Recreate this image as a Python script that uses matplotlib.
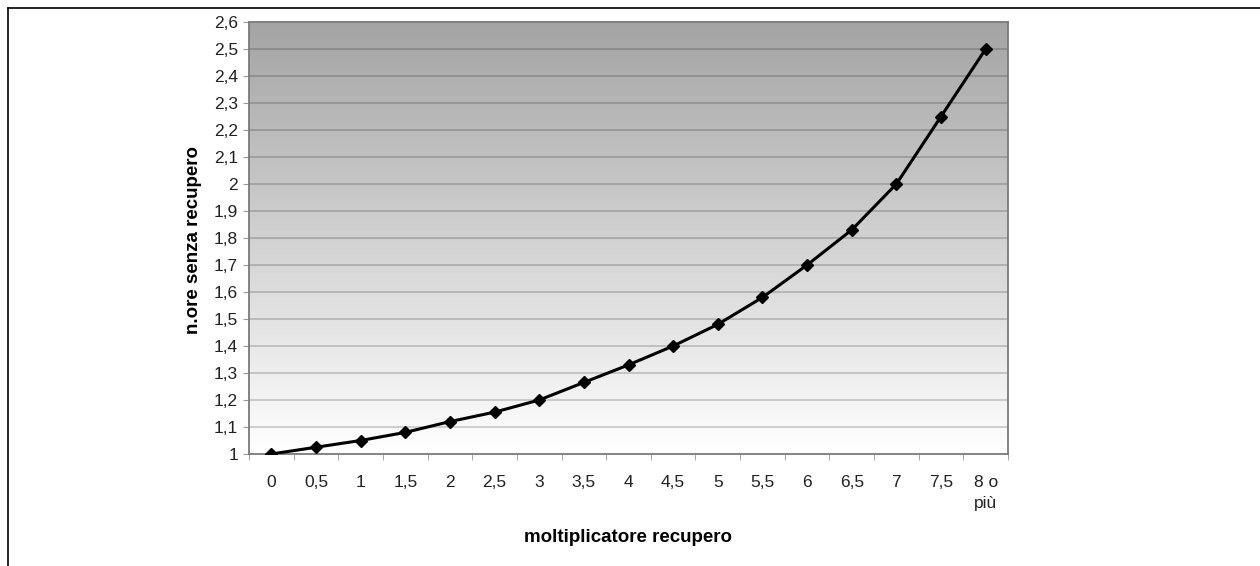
import numpy as np
import matplotlib
matplotlib.use("Agg")
import matplotlib.pyplot as plt
from matplotlib.lines import Line2D
from matplotlib.ticker import FixedLocator
from matplotlib.colors import LinearSegmentedColormap

plt.rcParams['font.family'] = ['Liberation Sans', 'DejaVu Sans']

categories = ["0", "0,5", "1", "1,5", "2", "2,5", "3", "3,5", "4", "4,5",
              "5", "5,5", "6", "6,5", "7", "7,5", "8 o\npiù"]
values = [1.0, 1.025, 1.05, 1.08, 1.12, 1.155, 1.2, 1.265, 1.33, 1.4,
          1.48, 1.58, 1.7, 1.83, 2.0, 2.25, 2.5]
y_ticks = [1.0, 1.1, 1.2, 1.3, 1.4, 1.5, 1.6, 1.7, 1.8, 1.9, 2.0,
           2.1, 2.2, 2.3, 2.4, 2.5, 2.6]
y_ticklabels = ["1", "1,1", "1,2", "1,3", "1,4", "1,5", "1,6", "1,7", "1,8",
                "1,9", "2", "2,1", "2,2", "2,3", "2,4", "2,5", "2,6"]

fig = plt.figure(figsize=(12.6, 5.66), dpi=100)
ax = fig.add_axes([249/1260, 1-454/566, (1008-249)/1260, (454-22)/566])

x = np.arange(len(categories))
xmin, xmax = -0.5, len(categories) - 0.5
ymin, ymax = 1.0, 2.6

# gradient background
grad = np.linspace(0, 1, 256).reshape(-1, 1)
cmap = LinearSegmentedColormap.from_list("g", ["#ffffff", "#a4a4a4"])
ax.imshow(grad, extent=[xmin, xmax, ymin, ymax], origin="lower", aspect="auto",
          cmap=cmap, zorder=0)

for yv in y_ticks[1:-1]:
    ax.axhline(yv, color="black", alpha=0.2, lw=1.2, zorder=1)

ax.plot(x, values, color="black", lw=2.2, marker="D", markersize=6,
        markerfacecolor="black", markeredgecolor="black", zorder=3)

ax.set_xlim(xmin, xmax)
ax.set_ylim(ymin, ymax)

ax.set_yticks(y_ticks)
ax.set_yticklabels(y_ticklabels, fontsize=12.5, color="#222222")
ax.set_xticks(x)
ax.set_xticklabels(categories, fontsize=12.5, color="#222222", va="top",
                   linespacing=1.55)
ax.xaxis.set_minor_locator(FixedLocator(np.arange(xmin, xmax + 0.01, 1.0)))
ax.tick_params(axis="x", which="major", length=0, pad=15)
ax.tick_params(axis="x", which="minor", length=4.5, color="#999999", direction="out")
ax.tick_params(axis="y", length=4.5, color="#999999", direction="out", pad=3.5)

for s in ax.spines.values():
    s.set_color("#7a7a7a")
    s.set_linewidth(1.3)

fig.text(193/1260, 1-240/566, "n.ore senza recupero", rotation=90,
         ha="center", va="center", fontsize=13.5, fontweight="bold")
fig.text(628/1260, 1-538/566, "moltiplicatore recupero",
         ha="center", va="center", fontsize=13.5, fontweight="bold")

# outer frame (left and top)
fig.add_artist(Line2D([8/1260, 8/1260], [0, 1-8/566], transform=fig.transFigure,
                      color="black", lw=1.2))
fig.add_artist(Line2D([8/1260, 1], [1-8/566, 1-8/566], transform=fig.transFigure,
                      color="black", lw=1.2))

fig.savefig("out.png", dpi=100, facecolor="white")
